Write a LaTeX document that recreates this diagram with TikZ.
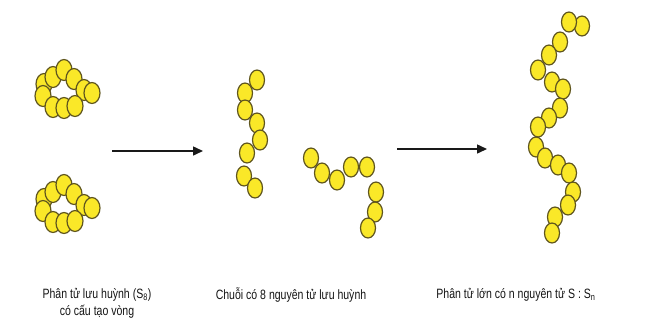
\documentclass[tikz,border=0pt]{standalone}
\usepackage{fontspec}
\setmainfont{Liberation Sans}[FakeStretch=0.78]
\usetikzlibrary{arrows.meta}
\definecolor{atomfill}{RGB}{250,232,40}
\definecolor{atomline}{RGB}{95,85,30}
\definecolor{inktext}{RGB}{20,20,20}
\begin{document}
\begin{tikzpicture}[x=1pt,y=-1pt,
  atom/.style={fill=atomfill,draw=atomline,line width=1.2pt},
  caption/.style={font=\fontsize{13.5}{17}\selectfont,text=inktext,align=center,inner sep=0pt},
  reaction/.style={-{Triangle[length=10pt,width=9pt]},line width=1.5pt,draw=black!90}]
\useasboundingbox (0,0) rectangle (647,327);
\fill[white] (0,0) rectangle (647,327);

% S8 rings (two copies, drawn back to front)
\foreach \dy in {0,115}{
  \foreach \x/\y in {44/84,53/77,64/70,74/79,84/90,92/93,43/96,53/107,64/108,75/106}
    \draw[atom] (\x,\y+\dy) ellipse (8 and 10.5);
}

% open chain, first piece
\foreach \x/\y in {245/93,257/80,245/110,257/123,260/140,247/153,244/176,255/188}
  \draw[atom] (\x,\y) ellipse (7.5 and 10);

% open chain, second piece
\foreach \x/\y in {311/158,322/173,337/180,351/167,367/167,376/192,375/212,368/228}
  \draw[atom] (\x,\y) ellipse (7.5 and 10);

% long polymer chain S_n
\foreach \x/\y in {582/26,569/22,560/42,549/55,538/70,552/82,563/89,560/108,549/118,538/127,
                   536/147,545/158,558/165,569/173,573/192,568/205,555/217,552/233}
  \draw[atom] (\x,\y) ellipse (7.5 and 10);

% reaction arrows
\coordinate (a1s) at (112,151);
\coordinate (a1e) at (203,151);
\coordinate (a2s) at (397,149);
\coordinate (a2e) at (487,149);
\draw[reaction] (a1s) -- (a1e);
\draw[reaction] (a2s) -- (a2e);

% captions
\node[caption] (c1) at (97,303) {Phân tử lưu huỳnh (S\textsubscript{8})\\có cấu tạo vòng};
\node[caption] (c2) at (291,295) {Chuỗi có 8 nguyên tử lưu huỳnh};
\node[caption] (c3) at (516,295) {Phân tử lớn có n nguyên tử S : S\textsubscript{n}};
\end{tikzpicture}
\end{document}
